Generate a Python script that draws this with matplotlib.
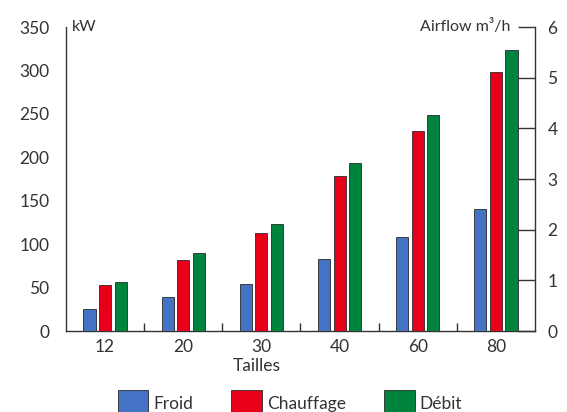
import matplotlib
matplotlib.use("Agg")
import matplotlib.pyplot as plt
import numpy as np
from matplotlib.patches import Patch

plt.rcParams['font.family'] = ['Lato', 'DejaVu Sans']

# Data
tailles = ["12", "20", "30", "40", "60", "80"]
froid_kw = [25, 39, 54, 83, 108, 141]
chauffage_kw = [53, 82, 113, 178, 230, 298]
debit_m3h = [0.97, 1.54, 2.12, 3.32, 4.27, 5.55]
left_ticks = [0, 50, 100, 150, 200, 250, 300, 350]
right_ticks = [0, 1, 2, 3, 4, 5, 6]

c_froid = "#4472C4"
c_chauf = "#E8001A"
c_debit = "#00843D"
txt = "#333333"
edge = "#2a2a2a"

fig = plt.figure(figsize=(5.67, 4.12), dpi=100)
ax = fig.add_axes([66/567, 1-331/412, (535-66)/567, (331-27)/412])
ax2 = ax.twinx()

x = np.arange(len(tailles))
w = 0.155
ax.bar(x - 0.2, froid_kw, w, color=c_froid, edgecolor=edge, linewidth=0.6, zorder=3)
ax.bar(x, chauffage_kw, w, color=c_chauf, edgecolor=edge, linewidth=0.6, zorder=3)
ax2.bar(x + 0.2, debit_m3h, w, color=c_debit, edgecolor=edge, linewidth=0.6, zorder=3)

ax.set_xlim(-0.5, len(tailles) - 0.5)
ax.set_ylim(0, 350)
ax2.set_ylim(0, 6)

for a in (ax, ax2):
    a.spines['top'].set_visible(False)
    for s in a.spines.values():
        s.set_color(txt)
        s.set_linewidth(1.0)

ax.spines['right'].set_visible(False)
ax2.spines['left'].set_visible(False)
ax2.spines['bottom'].set_visible(False)

ax.set_yticks(left_ticks)
ax.tick_params(axis='y', length=0, pad=12, labelsize=12.5, labelcolor=txt)
ax2.set_yticks(right_ticks)
ax2.tick_params(axis='y', direction='in', length=12, width=1.0, color=txt,
                pad=9, labelsize=12.5, labelcolor=txt)

ax.set_xticks(x)
ax.set_xticklabels(tailles)
ax.set_xticks(np.arange(0.5, len(tailles) - 1, 1.0), minor=True)
ax.tick_params(axis='x', which='major', length=0, pad=6, labelsize=12.5, labelcolor=txt)
ax.tick_params(axis='x', which='minor', direction='in', length=6, width=1.0, color=txt)

ax.text((257-66)/(535-66), -0.115, "Tailles", transform=ax.transAxes,
        ha='center', va='center', fontsize=12.5, color=txt)
ax.text(0.013, 1.0, "kW", transform=ax.transAxes, ha='left', va='center',
        fontsize=11.5, color=txt)
ax.text(0.947, 1.0, "Airflow m³/h", transform=ax.transAxes, ha='right', va='center',
        fontsize=11.5, color=txt)

handles = [Patch(facecolor=c_froid, edgecolor=edge, linewidth=0.6),
           Patch(facecolor=c_chauf, edgecolor=edge, linewidth=0.6),
           Patch(facecolor=c_debit, edgecolor=edge, linewidth=0.6)]
fig.legend(handles, ["Froid", "Chauffage", "Débit"], loc='center',
           bbox_to_anchor=(290/567, 1-403/412), ncol=3, frameon=False,
           fontsize=12.5, handlelength=1.75, handleheight=2.0,
           handletextpad=0.3, columnspacing=2.2, labelcolor=txt)

fig.savefig("out.png", dpi=100, facecolor="white")
